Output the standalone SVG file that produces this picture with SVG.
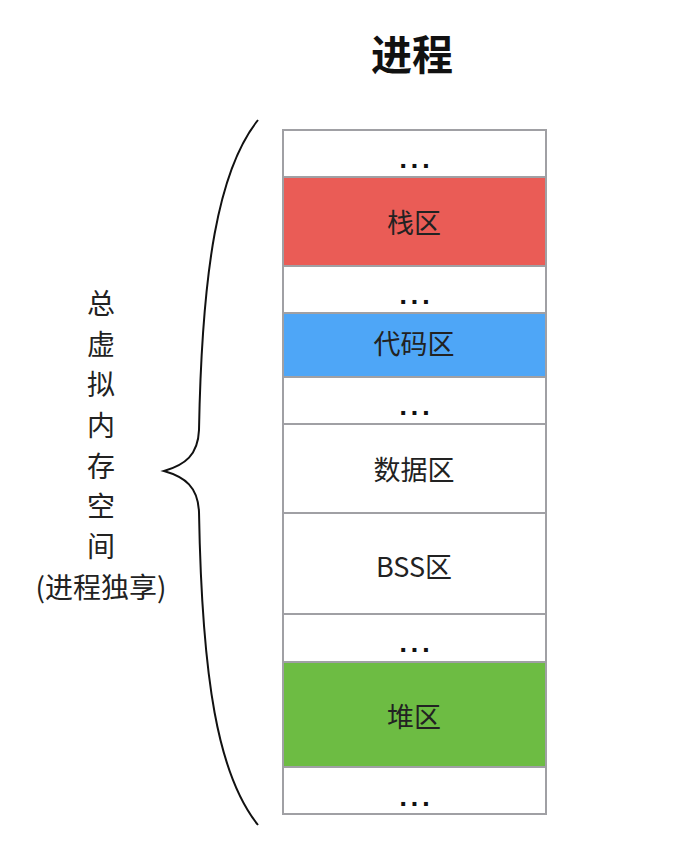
<svg xmlns="http://www.w3.org/2000/svg" width="698" height="866" viewBox="0 0 698 866">
<style>
.seg{stroke:#a0a0a4;stroke-width:2}
.w{fill:#ffffff}
.lbl{font-family:"Noto Sans CJK SC","Liberation Sans",sans-serif;font-size:27px;fill:#222;text-anchor:middle;dominant-baseline:central}
.dots{font-family:"DejaVu Sans","Liberation Sans",sans-serif;font-size:22px;font-weight:bold;fill:#111;text-anchor:middle;letter-spacing:3px}
.side{font-family:"Noto Sans CJK SC","Liberation Sans",sans-serif;font-size:28px;fill:#222;text-anchor:middle;dominant-baseline:central}
</style>
<rect width="698" height="866" fill="#ffffff"/>
<text x="412" y="52" font-family="'Noto Sans CJK SC','Liberation Sans',sans-serif" font-size="41" font-weight="bold" fill="#111" text-anchor="middle" dominant-baseline="central">进程</text>
<g id="connectors">
<path d="M258,120 C 218,170 202,270 199,430 C 198,455 185,465 164,471 C 185,477 198,487 199,512 C 202,680 218,775 258,825" fill="none" stroke="#111" stroke-width="2"/>
</g>
<g id="dots1"><rect class="seg w" x="283" y="130" width="263" height="47"/><text class="dots" x="416" y="168">...</text></g>
<g id="stack"><rect class="seg" fill="#ea5c56" x="283" y="177" width="263" height="89"/><text class="lbl" x="414" y="221">栈区</text></g>
<g id="dots2"><rect class="seg w" x="283" y="266" width="263" height="47"/><text class="dots" x="416" y="304">...</text></g>
<g id="code"><rect class="seg" fill="#4ea6f7" x="283" y="313" width="263" height="64"/><text class="lbl" x="414" y="342">代码区</text></g>
<g id="dots3"><rect class="seg w" x="283" y="377" width="263" height="47"/><text class="dots" x="416" y="415">...</text></g>
<g id="data"><rect class="seg w" x="283" y="424" width="263" height="89"/><text class="lbl" x="414" y="468">数据区</text></g>
<g id="bss"><rect class="seg w" x="283" y="513" width="263" height="101"/><text class="lbl" x="414" y="565">BSS区</text></g>
<g id="dots4"><rect class="seg w" x="283" y="614" width="263" height="48"/><text class="dots" x="416" y="652">...</text></g>
<g id="heap"><rect class="seg" fill="#6dbc43" x="283" y="662" width="263" height="105"/><text class="lbl" x="414" y="715">堆区</text></g>
<g id="dots5"><rect class="seg w" x="283" y="767" width="263" height="47"/><text class="dots" x="416" y="806">...</text></g>
<g id="side-label">
<text class="side" x="101" y="302">总</text>
<text class="side" x="101" y="343">虚</text>
<text class="side" x="101" y="383">拟</text>
<text class="side" x="101" y="424">内</text>
<text class="side" x="101" y="465">存</text>
<text class="side" x="101" y="505">空</text>
<text class="side" x="101" y="545">间</text>
<text class="side" x="101" y="586">(进程独享)</text>
</g>
</svg>
